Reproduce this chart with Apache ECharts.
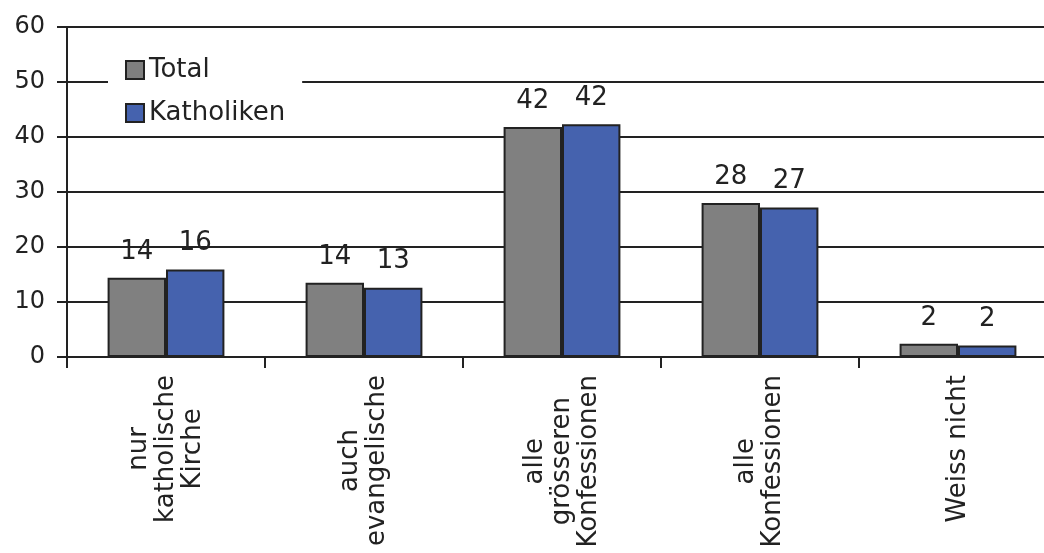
<!DOCTYPE html>
<html>
<head>
<meta charset="utf-8">
<script src="https://cdn.jsdelivr.net/npm/echarts@6/dist/echarts.min.js"></script>
<style>
html,body{margin:0;padding:0;background:#fff;}
#main{width:1044px;height:553px;}
</style>
</head>
<body>
<div id="main"></div>
<script>
var categories = ['nur\nkatholische\nKirche', 'auch\nevangelische', 'alle\ngrösseren\nKonfessionen', 'alle\nKonfessionen', 'Weiss nicht'];
var seriesNames = ['Total', 'Katholiken'];
var totalValues = [14.4, 13.5, 41.8, 28.0, 2.4];
var kathValues = [15.9, 12.6, 42.3, 27.2, 2.1];
var yTicks = {min: 0, max: 60, interval: 10};

var font = 'DejaVu Sans';
var ink = '#222';

var chart = echarts.init(document.getElementById('main'));

function barSeries(name, data, color){
    return {
        name: name,
        type: 'bar',
        data: data,
        barGap: '0%',
        barCategoryGap: '41%',
        itemStyle: {color: color, borderColor: ink, borderWidth: 2},
        label: {
            show: true,
            position: 'top',
            distance: 13,
            color: ink,
            fontFamily: font,
            fontSize: 26,
            formatter: function(p){ return Math.round(p.value); }
        }
    };
}

var option = {
    backgroundColor: '#fff',
    animation: false,
    // the last category runs past the right edge in the reference
    grid: {left: 67, top: 27, bottom: 196, width: 990, containLabel: false, outerBoundsMode: 'none'},
    legend: {
        orient: 'vertical',
        left: 108,
        top: 48,
        padding: [9, 17, 9, 17],
        backgroundColor: '#fff',
        itemWidth: 18,
        itemHeight: 18,
        itemGap: 17,
        icon: 'rect',
        textStyle: {color: ink, fontFamily: font, fontSize: 26, lineHeight: 26},
        data: seriesNames
    },
    xAxis: {
        type: 'category',
        data: categories,
        boundaryGap: true,
        axisLine: {lineStyle: {color: ink, width: 2}},
        axisTick: {show: true, interval: 0, length: 11, lineStyle: {color: ink, width: 2}},
        axisLabel: {
            interval: 0,
            rotate: 90,
            margin: 18,
            color: ink,
            fontFamily: font,
            fontSize: 26,
            lineHeight: 27,
            formatter: function(v){
                return v.split('\n').map(function(s){ return '{c|' + s + '}'; }).join('\n');
            },
            rich: {c: {align: 'center', fontFamily: font, fontSize: 26, lineHeight: 27, color: ink}}
        }
    },
    yAxis: {
        type: 'value',
        min: yTicks.min,
        max: yTicks.max,
        interval: yTicks.interval,
        axisLine: {show: true, lineStyle: {color: ink, width: 2}},
        axisTick: {show: true, length: 10, lineStyle: {color: ink, width: 2}},
        axisLabel: {margin: 22, color: ink, fontFamily: font, fontSize: 24},
        splitLine: {lineStyle: {color: ink, width: 2}}
    },
    series: [
        barSeries(seriesNames[0], totalValues, '#808080'),
        barSeries(seriesNames[1], kathValues, '#4562ae')
    ]
};
chart.setOption(option);
</script>
</body>
</html>
